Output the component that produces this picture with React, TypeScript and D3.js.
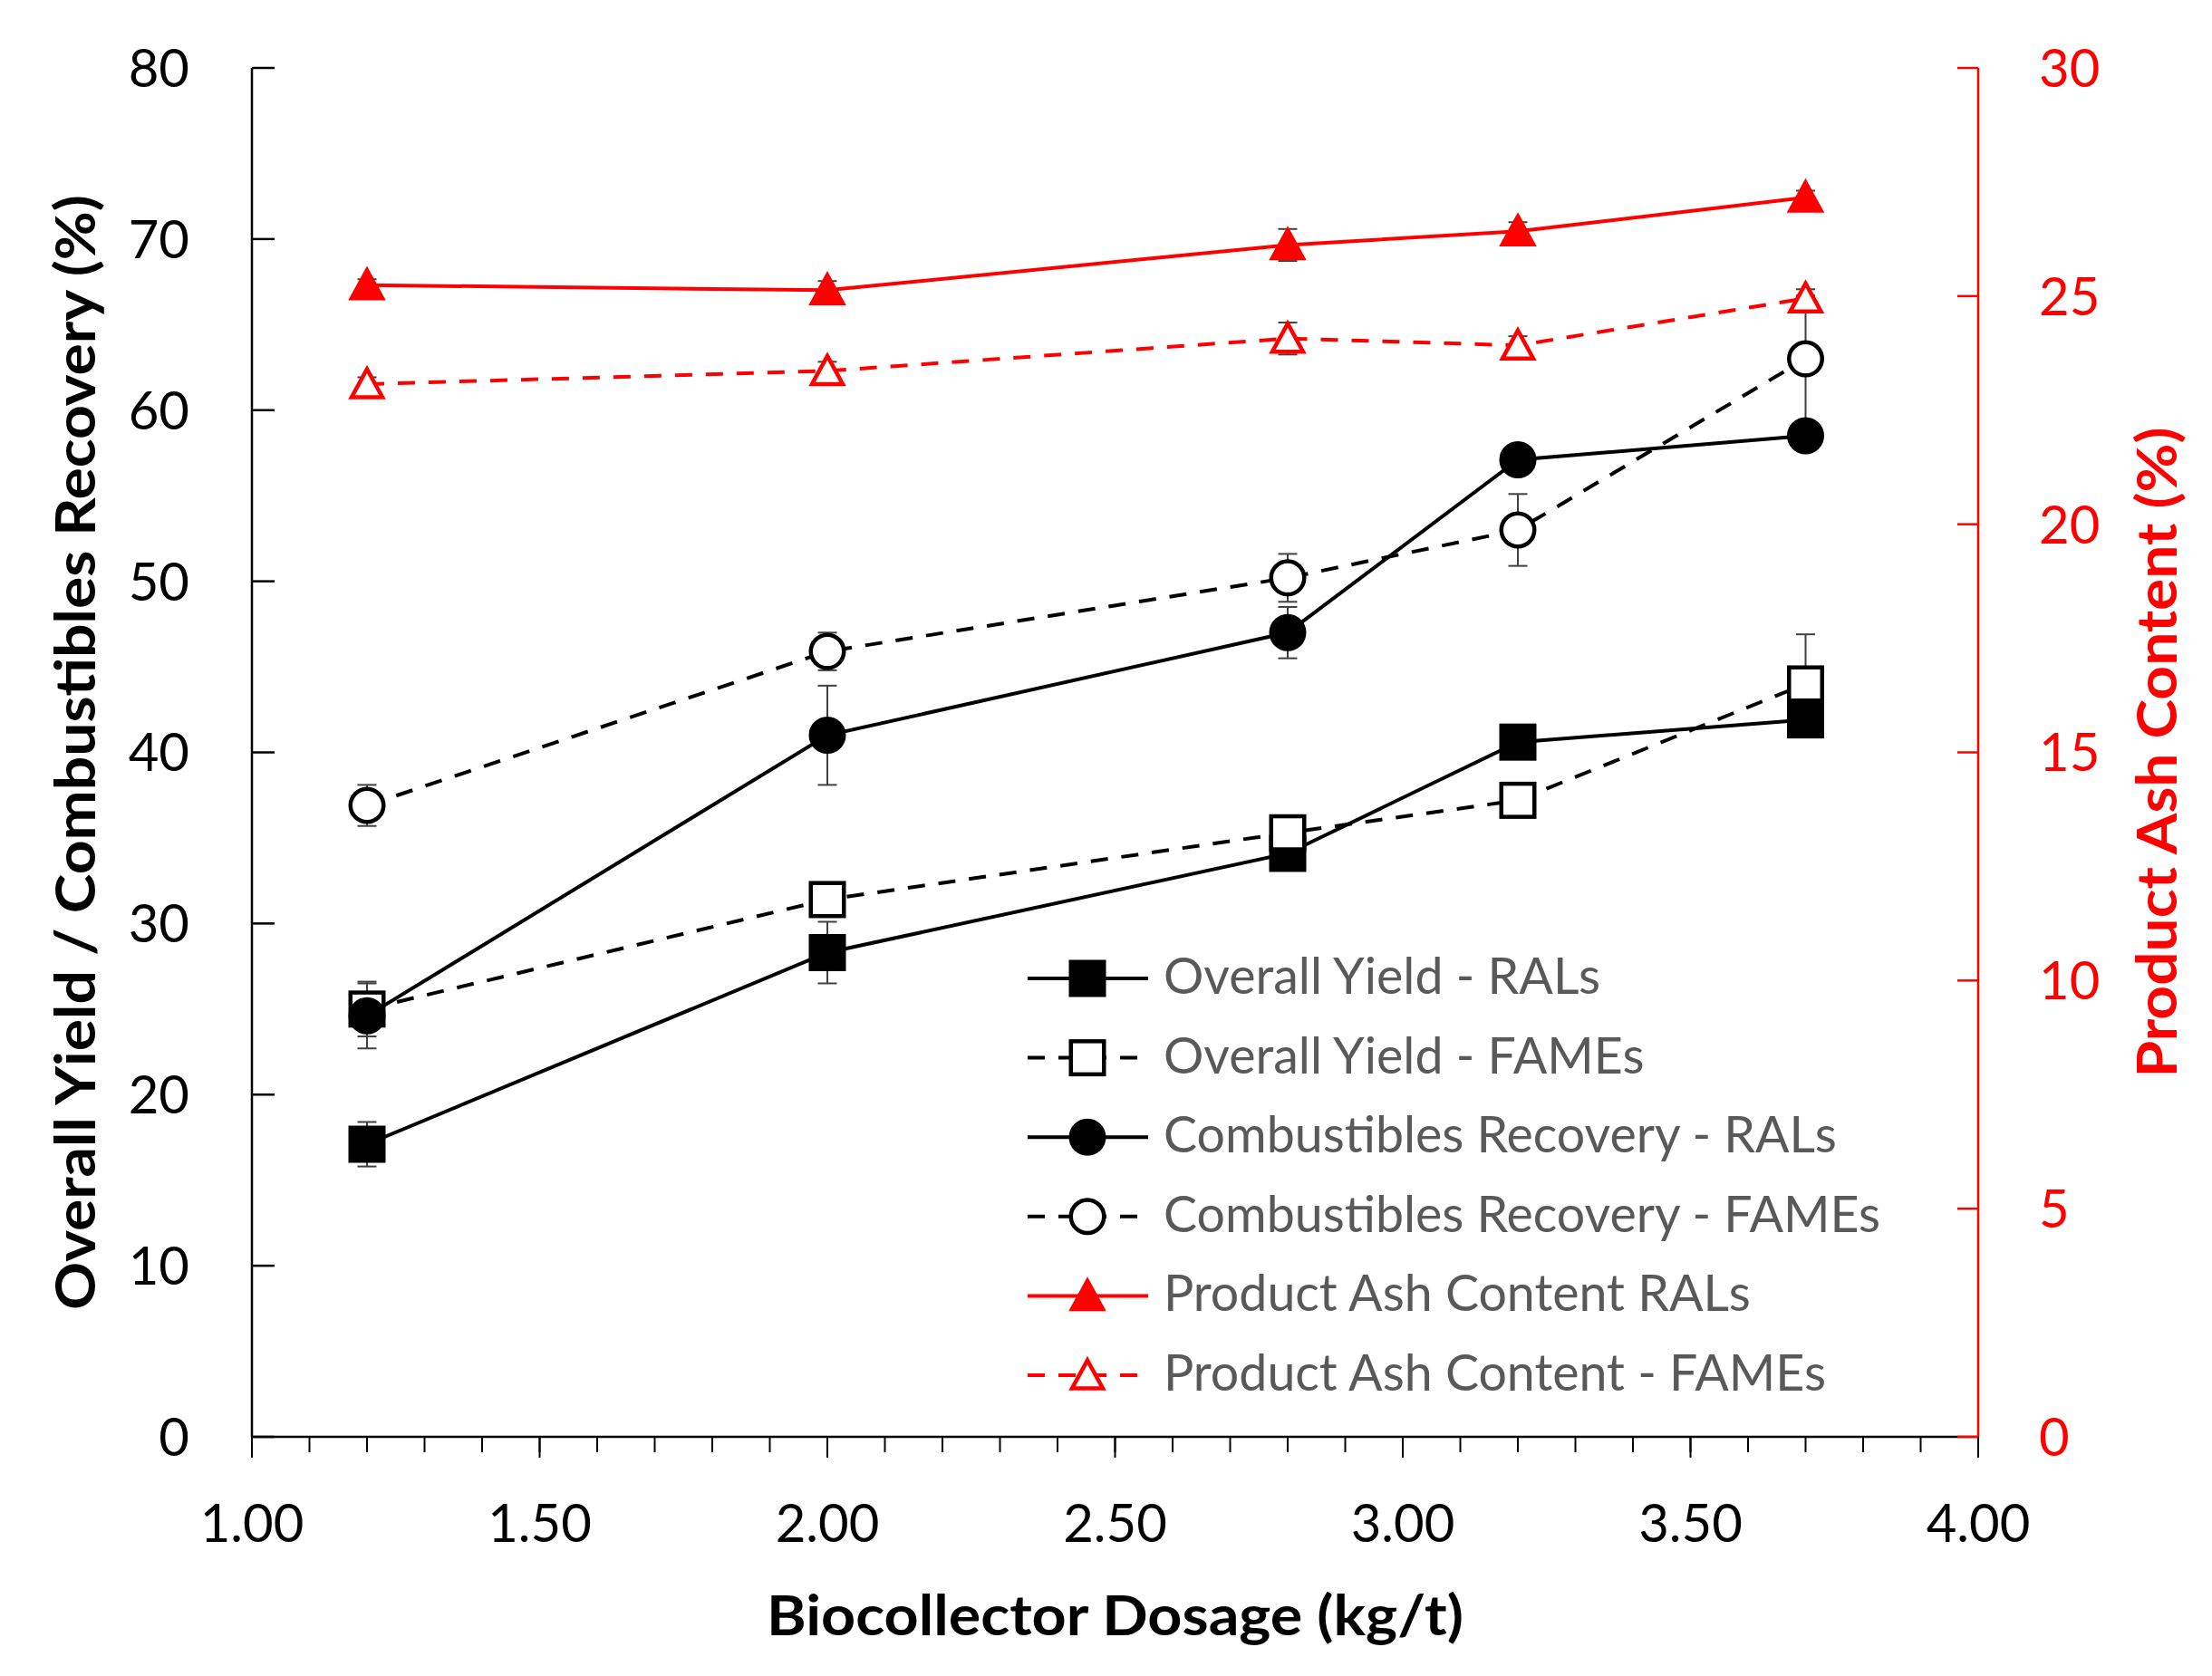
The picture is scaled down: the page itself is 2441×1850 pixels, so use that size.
import React from 'react';
import * as d3 from 'd3';

// ---------- data ----------
const dosage = [1.2, 2.0, 2.8, 3.2, 3.7];

const yieldRALs = [17.1, 28.3, 34.1, 40.6, 41.9];
const yieldRALsErr = [1.3, 1.8, 0.6, 0.5, 0.5];
const yieldFAMEs = [25.0, 31.4, 35.3, 37.2, 44.0];
const yieldFAMEsErr = [1.6, 0.8, 0.6, 0.5, 2.9];
const combRALs = [24.6, 41.0, 47.0, 57.1, 58.5];
const combRALsErr = [1.9, 2.9, 1.5, 0.6, 0.6];
const combFAMEs = [36.9, 45.9, 50.2, 53.0, 63.0];
const combFAMEsErr = [1.2, 1.1, 1.4, 2.1, 3.7];
const ashRALs = [25.24, 25.13, 26.12, 26.42, 27.16];
const ashRALsErr = [0.13, 0.2, 0.35, 0.2, 0.15];
const ashFAMEs = [23.07, 23.36, 24.07, 23.92, 24.95];
const ashFAMEsErr = [0.15, 0.2, 0.35, 0.2, 0.2];

const legendLabels = [
  'Overall Yield - RALs',
  'Overall Yield - FAMEs',
  'Combustibles Recovery - RALs',
  'Combustibles Recovery - FAMEs',
  'Product Ash Content RALs',
  'Product Ash Content - FAMEs',
];

const xTitle = 'Biocollector Dosage (kg/t)';
const yLeftTitle = 'Overall Yield / Combustibles Recovery (%)';
const yRightTitle = 'Product Ash Content (%)';

// ---------- layout ----------
const W = 2441;
const H = 1850;
const PL = 278, PR = 2183, PT = 75, PB = 1586;
const FONT = "Lato, 'Open Sans', 'Noto Sans', sans-serif";
const RED = '#FF0000';
const DASH = '19 15';

type Shape = 'square' | 'circle' | 'triangle';

function Marker({ shape, filled, color, cx, cy }: { shape: Shape; filled: boolean; color: string; cx: number; cy: number }) {
  const fill = filled ? color : '#ffffff';
  const sw = 4.5;
  if (shape === 'square') {
    const s = 36.5;
    return <rect x={cx - s / 2} y={cy - s / 2} width={s} height={s} fill={fill} stroke={color} strokeWidth={sw} />;
  }
  if (shape === 'circle') {
    return <circle cx={cx} cy={cy} r={18.25} fill={fill} stroke={color} strokeWidth={sw} />;
  }
  const w = 34, h = 31;
  const d = `M${cx},${cy - h / 2 - 1}L${cx + w / 2},${cy + h / 2 - 1}L${cx - w / 2},${cy + h / 2 - 1}Z`;
  return <path d={d} fill={fill} stroke={color} strokeWidth={sw} strokeLinejoin="miter" />;
}

export default function App() {
  const x = d3.scaleLinear().domain([1, 4]).range([PL, PR]);
  const yL = d3.scaleLinear().domain([0, 80]).range([PB, PT]);
  const yR = d3.scaleLinear().domain([0, 30]).range([PB, PT]);

  const series = [
    { label: legendLabels[0], values: yieldRALs, err: yieldRALsErr, shape: 'square' as Shape, filled: true, dashed: false, color: '#000000', y: yL },
    { label: legendLabels[1], values: yieldFAMEs, err: yieldFAMEsErr, shape: 'square' as Shape, filled: false, dashed: true, color: '#000000', y: yL },
    { label: legendLabels[2], values: combRALs, err: combRALsErr, shape: 'circle' as Shape, filled: true, dashed: false, color: '#000000', y: yL },
    { label: legendLabels[3], values: combFAMEs, err: combFAMEsErr, shape: 'circle' as Shape, filled: false, dashed: true, color: '#000000', y: yL },
    { label: legendLabels[4], values: ashRALs, err: ashRALsErr, shape: 'triangle' as Shape, filled: true, dashed: false, color: RED, y: yR },
    { label: legendLabels[5], values: ashFAMEs, err: ashFAMEsErr, shape: 'triangle' as Shape, filled: false, dashed: true, color: RED, y: yR },
  ];

  const xMajor = x.ticks(6);
  const xMinor = x.ticks(30);
  const yLTicks = yL.ticks(8);
  const yRTicks = yR.ticks(6);
  const fmtX = d3.format('.2f');

  const legendX0 = 1134, legendX1 = 1267, legendMX = 1200, legendTX = 1284;
  const legendY0 = 1080, legendDY = 87.6;

  return (
    <svg width={W} height={H} viewBox={`0 0 ${W} ${H}`} style={{ position: 'absolute', left: 0, top: 0, background: '#fff' }} fontFamily={FONT}>
      <rect x={0} y={0} width={W} height={H} fill="#fff" />

      {/* error bars (behind everything) */}
      {series.map((s, si) => (
        <g key={'e' + si} stroke="#404040" strokeWidth={2}>
          {s.values.map((v, i) => {
            const cx = x(dosage[i]);
            const y1 = s.y(v - s.err[i]);
            const y2 = s.y(v + s.err[i]);
            return (
              <g key={i}>
                <line x1={cx} x2={cx} y1={y1} y2={y2} />
                <line x1={cx - 10.5} x2={cx + 10.5} y1={y1} y2={y1} />
                <line x1={cx - 10.5} x2={cx + 10.5} y1={y2} y2={y2} />
              </g>
            );
          })}
        </g>
      ))}

      {/* series */}
      {series.map((s, si) => {
        const line = d3.line<number>().x((_, i) => x(dosage[i])).y((v) => s.y(v));
        return (
          <g key={si}>
            <path d={line(s.values) || ''} fill="none" stroke={s.color} strokeWidth={4} strokeDasharray={s.dashed ? DASH : undefined} />
            {s.values.map((v, i) => (
              <Marker key={'m' + i} shape={s.shape} filled={s.filled} color={s.color} cx={x(dosage[i])} cy={s.y(v)} />
            ))}
          </g>
        );
      })}

      {/* x axis */}
      <line x1={PL} x2={PR} y1={PB} y2={PB} stroke="#000" strokeWidth={2.5} />
      {xMinor.map((t, i) => (
        <line key={'xm' + i} x1={x(t)} x2={x(t)} y1={PB} y2={PB + 17} stroke="#000" strokeWidth={2} />
      ))}
      {xMajor.map((t, i) => (
        <g key={'xM' + i}>
          <line x1={x(t)} x2={x(t)} y1={PB} y2={PB + 23} stroke="#000" strokeWidth={2} />
          <text x={x(t)} y={1702} textAnchor="middle" fontSize={58} fill="#000">{fmtX(t)}</text>
        </g>
      ))}

      {/* left axis */}
      <line x1={PL} x2={PL} y1={PT} y2={PB} stroke="#000" strokeWidth={2.5} />
      {yLTicks.map((t, i) => (
        <g key={'yl' + i}>
          <line x1={PL} x2={PL + 25} y1={yL(t)} y2={yL(t)} stroke="#000" strokeWidth={2.5} />
          <text x={209} y={yL(t)} dy="0.36em" textAnchor="end" fontSize={58} fill="#000">{t}</text>
        </g>
      ))}

      {/* right axis */}
      <line x1={PR} x2={PR} y1={PT} y2={PB} stroke={RED} strokeWidth={2.5} />
      {yRTicks.map((t, i) => (
        <g key={'yr' + i}>
          <line x1={PR - 23} x2={PR} y1={yR(t)} y2={yR(t)} stroke={RED} strokeWidth={2.5} />
          <text x={2250} y={yR(t)} dy="0.36em" textAnchor="start" fontSize={58} fill={RED}>{t}</text>
        </g>
      ))}

      {/* titles */}
      <text x={(PL + PR) / 2} y={1805} textAnchor="middle" fontSize={62} fontWeight="bold" fill="#000" textLength={769} lengthAdjust="spacingAndGlyphs">{xTitle}</text>
      <text transform={`translate(105, ${(PT + PB) / 2}) rotate(-90)`} textAnchor="middle" fontSize={62} fontWeight="bold" fill="#000" textLength={1231} lengthAdjust="spacingAndGlyphs">{yLeftTitle}</text>
      <text transform={`translate(2402, ${(PT + PB) / 2}) rotate(-90)`} textAnchor="middle" fontSize={62} fontWeight="bold" fill={RED} textLength={718} lengthAdjust="spacingAndGlyphs">{yRightTitle}</text>

      {/* legend */}
      {series.map((s, i) => {
        const ly = legendY0 + i * legendDY;
        return (
          <g key={'lg' + i}>
            <line x1={legendX0} x2={legendX1} y1={ly} y2={ly} stroke={s.color} strokeWidth={4} strokeDasharray={s.dashed ? DASH : undefined} />
            <Marker shape={s.shape} filled={s.filled} color={s.color} cx={legendMX} cy={ly} />
            <text x={legendTX} y={ly + 17} fontSize={55.5} fill="#595959">{s.label}</text>
          </g>
        );
      })}
    </svg>
  );
}
